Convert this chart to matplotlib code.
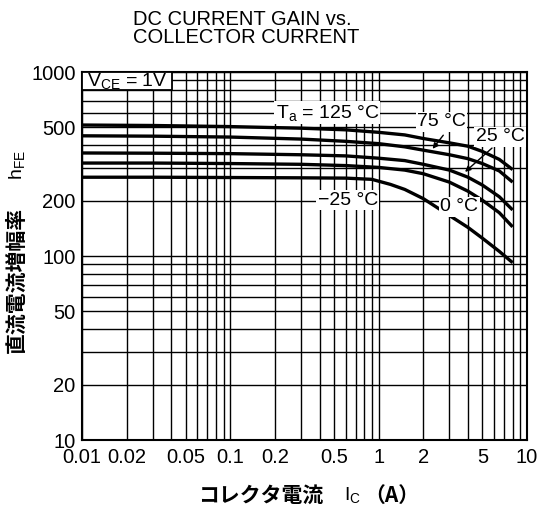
import matplotlib
matplotlib.use('Agg')
import matplotlib.pyplot as plt
from matplotlib.patches import Rectangle
from matplotlib.ticker import LogLocator, FixedLocator, FixedFormatter, NullFormatter

plt.rcParams['font.family'] = ['Liberation Sans', 'Noto Sans CJK JP', 'DejaVu Sans']
plt.rcParams['mathtext.fontset'] = 'custom'
plt.rcParams['mathtext.rm'] = 'Liberation Sans'
plt.rcParams['mathtext.it'] = 'Liberation Sans'

# hFE vs Ic (A), lecturas del grafico
ic_125 = [0.01, 0.03, 0.1, 0.3, 0.6, 1.0, 1.5, 2.0, 3.0, 4.0, 5.0, 6.5, 8.0]
hfe_125 = [515, 512, 505, 495, 485, 470, 455, 435, 412, 395, 370, 335, 295]

ic_75 = [0.01, 0.03, 0.1, 0.3, 0.6, 1.0, 1.5, 2.0, 3.0, 4.0, 5.0, 6.5, 8.0]
hfe_75 = [450, 448, 443, 432, 420, 408, 392, 376, 355, 338, 318, 290, 252]

ic_25 = [0.01, 0.03, 0.1, 0.3, 0.6, 1.0, 1.5, 2.0, 3.0, 4.0, 5.0, 6.5, 8.0]
hfe_25 = [363, 362, 360, 355, 350, 340, 330, 315, 293, 268, 243, 210, 178]

ic_0 = [0.01, 0.03, 0.1, 0.3, 0.6, 1.0, 1.5, 2.0, 3.0, 4.0, 5.0, 6.5, 8.0]
hfe_0 = [320, 320, 318, 315, 310, 303, 293, 280, 252, 225, 201, 172, 144]

ic_m25 = [0.01, 0.03, 0.1, 0.3, 0.6, 0.9, 1.2, 1.5, 2.0, 3.0, 4.0, 5.0, 6.5, 8.0]
hfe_m25 = [268, 268, 267, 266, 265, 261, 245, 230, 205, 166, 143, 125, 106, 92]

x_ticks = [0.01, 0.02, 0.05, 0.1, 0.2, 0.5, 1, 2, 5, 10]
x_labels = ['0.01', '0.02', '0.05', '0.1', '0.2', '0.5', '1', '2', '5', '10']
y_ticks = [10, 20, 50, 100, 200, 500, 1000]
y_labels = ['10', '20', '50', '100', '200', '500', '1000']

fig = plt.figure(figsize=(5.44, 5.08), dpi=100)
ax = fig.add_axes([82/544, 68/508, 445/544, 368/508])

ax.set_xscale('log')
ax.set_yscale('log')
ax.set_xlim(0.01, 10)
ax.set_ylim(10, 1000)

# rejilla completa (mayor y menor)
ax.xaxis.set_major_locator(FixedLocator(x_ticks))
ax.xaxis.set_major_formatter(FixedFormatter(x_labels))
ax.xaxis.set_minor_locator(LogLocator(base=10, subs=range(1, 10), numticks=20))
ax.xaxis.set_minor_formatter(NullFormatter())
ax.yaxis.set_major_locator(FixedLocator(y_ticks))
ax.yaxis.set_major_formatter(FixedFormatter(y_labels))
ax.yaxis.set_minor_locator(LogLocator(base=10, subs=range(1, 10), numticks=20))
ax.yaxis.set_minor_formatter(NullFormatter())
ax.grid(True, which='both', color='black', lw=1.0)
ax.tick_params(which='both', length=0, labelsize=14.5)
ax.tick_params(axis='x', pad=6)
ax.tick_params(axis='y', pad=4.5)
for s in ax.spines.values():
    s.set_linewidth(1.5)

for xs, ys in [(ic_125, hfe_125), (ic_75, hfe_75), (ic_25, hfe_25),
               (ic_0, hfe_0), (ic_m25, hfe_m25)]:
    ax.plot(xs, ys, color='black', lw=2.4, solid_capstyle='butt')

box = dict(facecolor='white', edgecolor='none', pad=1)
ax.text(0.45, 600, 'T$_{\\mathrm{a}}$ = 125 °C', fontsize=14, ha='center', va='center', bbox=box)
ax.text(2.65, 535, '75 °C', fontsize=14, ha='center', va='center', bbox=box)
ax.text(6.6, 444, '25 °C', fontsize=14, ha='center', va='center', bbox=box)
ax.text(3.5, 185, '0 °C', fontsize=14, ha='center', va='center', bbox=box)
ax.text(0.62, 201, '−25 °C', fontsize=14, ha='center', va='center', bbox=box)

arrow = dict(arrowstyle='-|>', color='black', lw=1.0, mutation_scale=8)
ax.annotate('', xy=(2.25, 372), xytext=(2.8, 466), arrowprops=arrow)
ax.annotate('', xy=(3.7, 280), xytext=(6.0, 395), arrowprops=arrow)

# recuadro VCE
ax.add_patch(Rectangle((0, 0.951), 0.202, 0.049, transform=ax.transAxes,
                       facecolor='white', edgecolor='black', lw=1.3, zorder=3))
ax.text(0.101, 0.9755, 'V$_{\\mathrm{CE}}$ = 1V', transform=ax.transAxes, fontsize=14,
        ha='center', va='center', zorder=4)

fig.text(133/544, 1 - 10/508, 'DC CURRENT GAIN vs.\nCOLLECTOR CURRENT',
         fontsize=14.5, ha='left', va='top', linespacing=0.95)

cjk = ['Noto Sans CJK JP', 'DejaVu Sans']
fig.text(323/544, 1 - 495/508, 'コレクタ電流', family=cjk, fontsize=15,
         fontweight='bold', ha='right', va='center')
fig.text(344/544, 1 - 495/508, 'I$_{\\mathrm{C}}$', fontsize=14, ha='left', va='center')
fig.text(364/544, 1 - 495/508, '（A）', family=cjk, fontsize=15, fontweight='bold',
         ha='left', va='center')

fig.text(16/544, 1 - 280/508, '直流電流増幅率', family=cjk, fontsize=15,
         fontweight='bold', rotation=90, ha='center', va='center')
fig.text(17/544, 1 - 165/508, 'h$_{\\mathrm{FE}}$', fontsize=14, rotation=90,
         ha='center', va='center')

fig.savefig('out.png', dpi=100)
